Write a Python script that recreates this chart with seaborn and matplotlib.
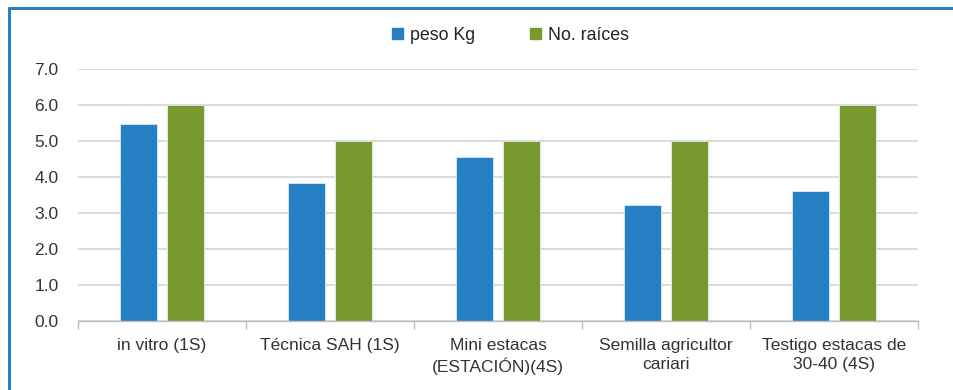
import matplotlib
matplotlib.use("Agg")
import matplotlib.pyplot as plt
import seaborn as sns
import pandas as pd
import numpy as np
from matplotlib.patches import Rectangle
from matplotlib.lines import Line2D

categories = ["in vitro (1S)", "Técnica SAH (1S)", "Mini estacas\n(ESTACIÓN)(4S)",
              "Semilla agricultor\ncariari", "Testigo estacas de\n30-40 (4S)"]
peso_kg = [5.47, 3.83, 4.56, 3.22, 3.61]
no_raices = [6.0, 5.0, 5.0, 5.0, 6.0]
series_names = ["peso Kg", "No. raíces"]
yticks = [0.0, 1.0, 2.0, 3.0, 4.0, 5.0, 6.0, 7.0]

df = pd.DataFrame({
    "cat": categories * 2,
    "val": peso_kg + no_raices,
    "serie": [series_names[0]] * 5 + [series_names[1]] * 5,
})

sns.set_theme(style="white")
plt.rcParams['font.family'] = ['Liberation Sans', 'DejaVu Sans']

fig = plt.figure(figsize=(9.54, 3.9), dpi=100)
ax = fig.add_axes([78/954, 1-321/390, (918-78)/954, (321-69)/390])

colors = ["#2580C3", "#77992D"]
sns.barplot(data=df, x="cat", y="val", hue="serie", palette=colors, ax=ax,
            width=0.56, gap=0.21, edgecolor="#DDEBF5", linewidth=0.6,
            saturation=1, legend=False)

ax.set_ylim(0, 7.0)
ax.set_xlim(-0.5, 4.5)
ax.set_yticks(yticks)
ax.set_yticklabels([f"{v:.1f}" for v in yticks], fontsize=12.5, color="#333333")
ax.yaxis.grid(True, color="#D4D4D4", linewidth=1.2)
ax.set_axisbelow(True)
for s in ["top", "right", "left"]:
    ax.spines[s].set_visible(False)
ax.spines["bottom"].set_color("#BFBFBF")
ax.spines["bottom"].set_linewidth(1.0)
ax.set_xlabel("")
ax.set_ylabel("")
ax.tick_params(axis="y", length=0, pad=14)
ax.set_xticks(np.arange(5))
ax.set_xticklabels(categories, fontsize=12.5, color="#333333", linespacing=1.35)
ax.tick_params(axis="x", length=0, pad=12)
ax.set_xticks(np.arange(-0.5, 5, 1), minor=True)
ax.tick_params(axis="x", which="minor", bottom=True, length=6, color="#BFBFBF",
               width=1.0, direction="out")

handles = [Rectangle((0, 0), 1, 1, color=c) for c in colors]
fig.legend(handles, series_names, loc="center", bbox_to_anchor=(0.535, 1-35/390),
           ncol=2, frameon=False, fontsize=12.8, handlelength=0.6, handleheight=0.6,
           columnspacing=3.1, handletextpad=0.4, labelcolor="#222222")

# outer frame (left and top)
fig.add_artist(Line2D([9/954, 9/954], [0, 1-8/390], transform=fig.transFigure,
                      color="#2A7FC1", linewidth=2.2))
fig.add_artist(Line2D([9/954, 1], [1-8/390, 1-8/390], transform=fig.transFigure,
                      color="#2A7FC1", linewidth=2.2))

fig.savefig("out.png", dpi=100)
